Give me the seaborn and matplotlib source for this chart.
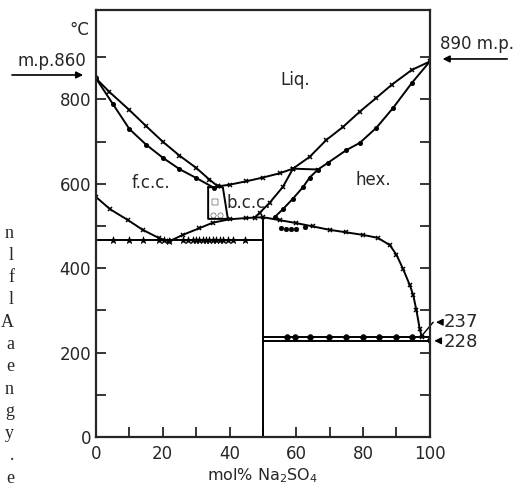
import matplotlib
matplotlib.use("Agg")
import matplotlib.pyplot as plt
import seaborn as sns

# Li2SO4 - Na2SO4, valores leidos del diagrama
# liquidus y solidus f.c.c. (lado Li2SO4)
liq_fcc_x = [0, 4, 10, 15, 20, 25, 30, 34, 36.5]
liq_fcc_t = [850, 818, 775, 737, 700, 667, 638, 610, 594]
sol_fcc_x = [0, 5, 10, 15, 20, 25, 30, 35.5]
sol_fcc_t = [850, 790, 730, 693, 662, 635, 614, 590]

# liquidus b.c.c. y linea peritectica
liq_bcc_x = [36.5, 40, 45, 50, 55, 59]
liq_bcc_t = [594, 598, 606, 615, 625, 636]
perit_x = [59, 66.5]
perit_t = [636, 634]

# liquidus hex. y limite bcc/(bcc+hex)
liq_hex_x = [100, 94.6, 88.6, 84, 79, 74, 69, 64, 59, 56, 52, 49, 47.5]
liq_hex_t = [890, 870, 835, 804, 771, 735, 704, 664, 636, 593, 555, 531, 520]
# solidus hex. y limite hex/(bcc+hex)
sol_hex_x = [100, 94.6, 89, 84, 79, 75, 69.5, 66.5, 64, 62, 59, 56, 53.5]
sol_hex_t = [890, 839, 780, 733, 697, 680, 650, 634, 615, 592, 565, 540, 521]

# solvus f.c.c.
solv_fcc_x = [0, 4.2, 9.6, 14, 19, 22]
solv_fcc_t = [569, 540, 514, 491, 471, 464]
# limite inferior b.c.c. + solvus hex.
solv_hex_x = [22, 26, 31, 35, 40, 45, 50, 55, 60, 65, 70, 75, 80, 84.4, 88, 90, 92, 94, 95, 96, 97, 97.6]
solv_hex_t = [464, 479, 495, 508, 516, 519, 521, 514, 507, 499, 491, 485, 479, 472, 455, 432, 398, 360, 337, 300, 255, 237]

# caja f.c.c.+b.c.c.
caja_x = [33.6, 33.6, 39.5, 38, 33.6]
caja_t = [592, 517, 517, 592, 592]

# compuesto LiNaSO4 (linea vertical) y eutectoide
comp_x = [50, 50]
comp_t = [0, 521]
eut_x = [0, 50]
eut_t = [466, 466]
eut_pts_x = [5, 10, 14, 19, 20.5, 22, 26, 27.5, 29, 30, 31, 32, 33, 34, 35, 36, 37, 38, 39.5, 41, 44.5]
eut_pts_t = [466, 466, 466, 467, 466, 465, 467, 468, 467, 466, 467, 468, 466, 467, 466, 467, 468, 467, 466, 467, 466]

# transiciones a 237 y 228
t237_x = [50, 100]
t237_t = [237, 237]
t228_x = [50, 100]
t228_t = [228, 228]
pts237_x = [57.2, 59.6, 64, 69.8, 74.9, 79.9, 84.7, 89.8, 94.6, 100]
pts237_t = [238, 238, 238, 238, 238, 238, 238, 238, 238, 230]

# puntos sueltos
sueltos_x = [55.5, 57, 58.5, 60, 62.5]
sueltos_t = [495, 492, 493, 494, 497]
cuad_x = [35.6]
cuad_t = [557]
circ_x = [35, 37.2]
circ_t = [527, 527]

sns.set_style("ticks")
plt.rcParams['font.family'] = ['DejaVu Sans']

fig = plt.figure(figsize=(5.16, 4.86), dpi=100)
ax = fig.add_axes([0.186, 0.1008, 0.647, 0.8786])


def curva(x, t, marker=None, ms=3):
    sns.lineplot(x=x, y=t, ax=ax, sort=False, estimator=None, color="black",
                 lw=1.4, marker=marker, markersize=ms, markeredgecolor="black",
                 markeredgewidth=1.1)


curva(liq_fcc_x, liq_fcc_t, "x")
curva(sol_fcc_x, sol_fcc_t, "o", 2.5)
curva(liq_bcc_x, liq_bcc_t, "x")
curva(perit_x, perit_t, "x")
curva(liq_hex_x, liq_hex_t, "x")
curva(sol_hex_x, sol_hex_t, "o", 2.5)
curva(solv_fcc_x, solv_fcc_t, "x")
curva(solv_hex_x, solv_hex_t, "x")
curva(caja_x, caja_t)
curva(comp_x, comp_t)
curva(eut_x, eut_t)
curva(t237_x, t237_t)
curva(t228_x, t228_t)

sns.scatterplot(x=eut_pts_x, y=eut_pts_t, ax=ax, marker="*", s=30, color="black", edgecolor="black")
sns.scatterplot(x=pts237_x, y=pts237_t, ax=ax, marker="o", s=18, color="black", edgecolor="black")
sns.scatterplot(x=sueltos_x, y=sueltos_t, ax=ax, marker="o", s=12, color="black", edgecolor="black")
sns.scatterplot(x=cuad_x, y=cuad_t, ax=ax, marker="s", s=14, facecolor="white", edgecolor="black")
sns.scatterplot(x=circ_x, y=circ_t, ax=ax, marker="o", s=14, facecolor="white", edgecolor="black")

ax.set_xlim(0, 100)
ax.set_ylim(0, 1012)
ax.set_xticks([0, 20, 40, 60, 80, 100])
ax.set_xticks([10, 30, 50, 70, 90], minor=True)
ax.set_yticks([0, 200, 400, 600, 800])
ax.set_yticks([100, 300, 500, 700, 900], minor=True)
ax.tick_params(which="both", direction="in", length=7, width=1.3, labelsize=12,
               right=True, top=False)
ax.tick_params(axis="x", pad=6)
for s in ax.spines.values():
    s.set_linewidth(1.6)

ax.set_xlabel("mol% Na$_2$SO$_4$", fontsize=11.5, labelpad=2)
ax.set_ylabel("")

# rotulos de fases
ax.text(59.6, 846, "Liq.", fontsize=12, ha="center", va="center")
ax.text(16.5, 603, "f.c.c.", fontsize=12, ha="center", va="center")
ax.text(45.8, 555, "b.c.c.", fontsize=12, ha="center", va="center")
ax.text(83, 609, "hex.", fontsize=12, ha="center", va="center")

# puntos de fusion
ax.text(-2, 965, "°C", fontsize=12, ha="right", va="center", clip_on=False)
ax.text(-3, 890, "m.p.860", fontsize=12, ha="right", va="center", clip_on=False)
ax.annotate("", xy=(-3, 858), xytext=(-26, 858), annotation_clip=False,
            arrowprops=dict(arrowstyle="-|>", color="black", lw=1.2))
ax.text(103, 932, "890 m.p.", fontsize=12, ha="left", va="center", clip_on=False)
ax.annotate("", xy=(103, 896), xytext=(124, 896), annotation_clip=False,
            arrowprops=dict(arrowstyle="-|>", color="black", lw=1.2))

# 237 y 228
ax.text(104.2, 272, "237", fontsize=13, ha="left", va="center", clip_on=False)
ax.annotate("", xy=(101, 272), xytext=(104.2, 272), annotation_clip=False,
            arrowprops=dict(arrowstyle="-|>", color="black", lw=1.0))
ax.plot([97.6, 101], [240, 272], color="black", lw=1.0, clip_on=False)
ax.text(104.2, 226, "228", fontsize=13, ha="left", va="center", clip_on=False)
ax.annotate("", xy=(100.5, 228), xytext=(104.2, 228), annotation_clip=False,
            arrowprops=dict(arrowstyle="-|>", color="black", lw=1.0))

# texto cortado de la pagina
letras = ["n", "l", "f", "l", "A", "a", "e", "n", "g", "y", ".", "e"]
for i, c in enumerate(letras):
    fig.text(14 / 516, 1 - (233 + 22.3 * i) / 486, c, ha="right", va="center",
             fontsize=13, family="Liberation Serif")

plt.savefig("out.png", dpi=100)
